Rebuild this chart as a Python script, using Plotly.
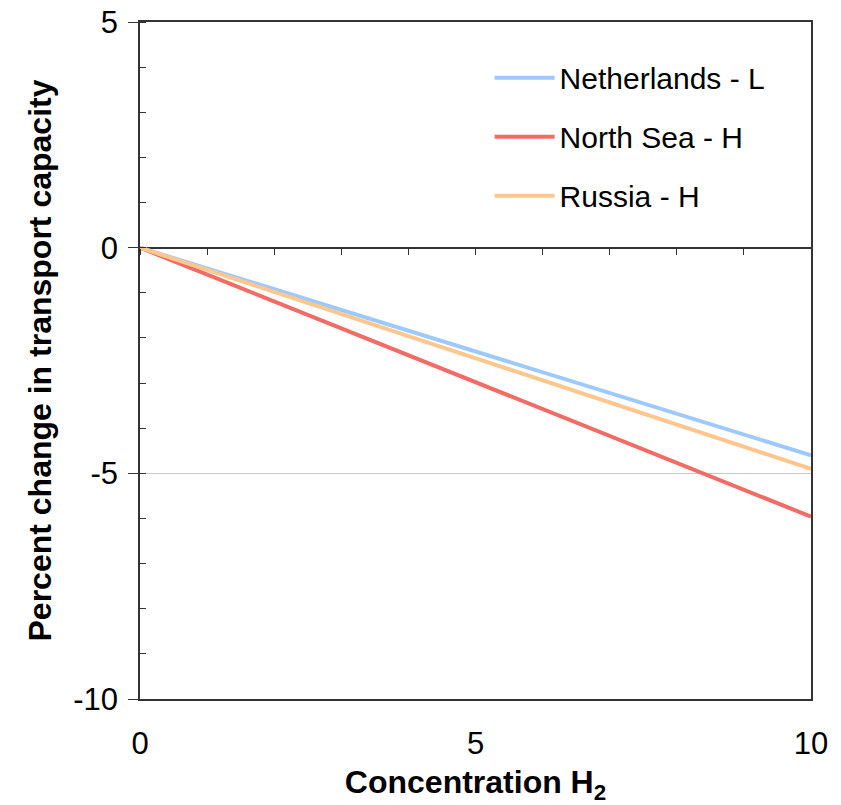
import plotly.graph_objects as go

# Data
concentration = [0, 10]
netherlands_l = [0, -4.60]
north_sea_h = [0, -5.96]
russia_h = [0, -4.90]
series_names = ["Netherlands - L", "North Sea - H", "Russia - H"]
series_colors = ["#9ec9fd", "#f06c64", "#ffc68e"]
x_tickvals = [0, 5, 10]
y_tickvals = [-10, -5, 0, 5]
y_ticktext = ["-10", "-5", "0", "5"]

FONT = "Liberation Sans, Arial, sans-serif"

fig = go.Figure()
for name, vals, col in zip(series_names, [netherlands_l, north_sea_h, russia_h], series_colors):
    fig.add_trace(go.Scatter(x=concentration, y=vals, mode="lines", name=name,
                             legendgroup=name,
                             line=dict(color=col, width=4)))

# invisible trace to carry the tick-only axis on the zero line
fig.add_trace(go.Scatter(x=concentration, y=netherlands_l, mode="lines", xaxis="x2",
                         showlegend=False, hoverinfo="skip", opacity=0,
                         line=dict(width=0)))

fig.update_layout(
    width=841, height=805,
    margin=dict(l=140, r=30, t=22, b=106, autoexpand=False),
    paper_bgcolor="white", plot_bgcolor="white",
    font=dict(family=FONT, color="black"),
    showlegend=True,
    legend=dict(x=0.521, y=0.956, xanchor="left", yanchor="top",
                font=dict(size=30, family=FONT, color="black"),
                bgcolor="rgba(0,0,0,0)", tracegroupgap=17,
                itemwidth=60),
    xaxis=dict(range=[0, 10], tickvals=x_tickvals, showgrid=False, zeroline=False,
               automargin=False, ticklabeloverflow="allow",
               showline=True, linecolor="#333333", linewidth=1.5, mirror=True,
               ticks="outside", ticklen=16, tickcolor="rgba(0,0,0,0)",
               tickfont=dict(size=31, color="black"),
               title=dict(text="<b>Concentration H<sub>2</sub></b>",
                          font=dict(size=32, color="black"), standoff=24)),
    xaxis2=dict(range=[0, 10], overlaying="x", anchor="free", position=2/3,
                side="bottom", dtick=1, tick0=0, ticks="outside", ticklen=6,
                tickcolor="#333333", tickwidth=1.2, showticklabels=False,
                showline=False, showgrid=False, zeroline=False, matches="x",
                automargin=False),
    yaxis=dict(range=[-10, 5], tickvals=y_tickvals, ticktext=y_ticktext,
               automargin=False, ticklabeloverflow="allow",
               showgrid=True, gridcolor="#c8c8c8", gridwidth=1,
               zeroline=True, zerolinecolor="#333333", zerolinewidth=1.5,
               showline=True, linecolor="#333333", linewidth=1.5, mirror=True,
               ticks="outside", ticklen=10, tickcolor="#333333", tickwidth=1.2,
               ticklabelstandoff=4,
               minor=dict(dtick=1, ticks="inside", ticklen=6, tickcolor="#333333",
                          tickwidth=1.2, showgrid=False),
               tickfont=dict(size=31, color="black"),
               title=dict(text="<b>Percent change in transport capacity</b>",
                          font=dict(size=32, color="black"), standoff=12)),
)

fig.write_html("out.html", config={"displayModeBar": False},
               post_script="document.body.style.margin='0';document.body.style.overflow='hidden';")
